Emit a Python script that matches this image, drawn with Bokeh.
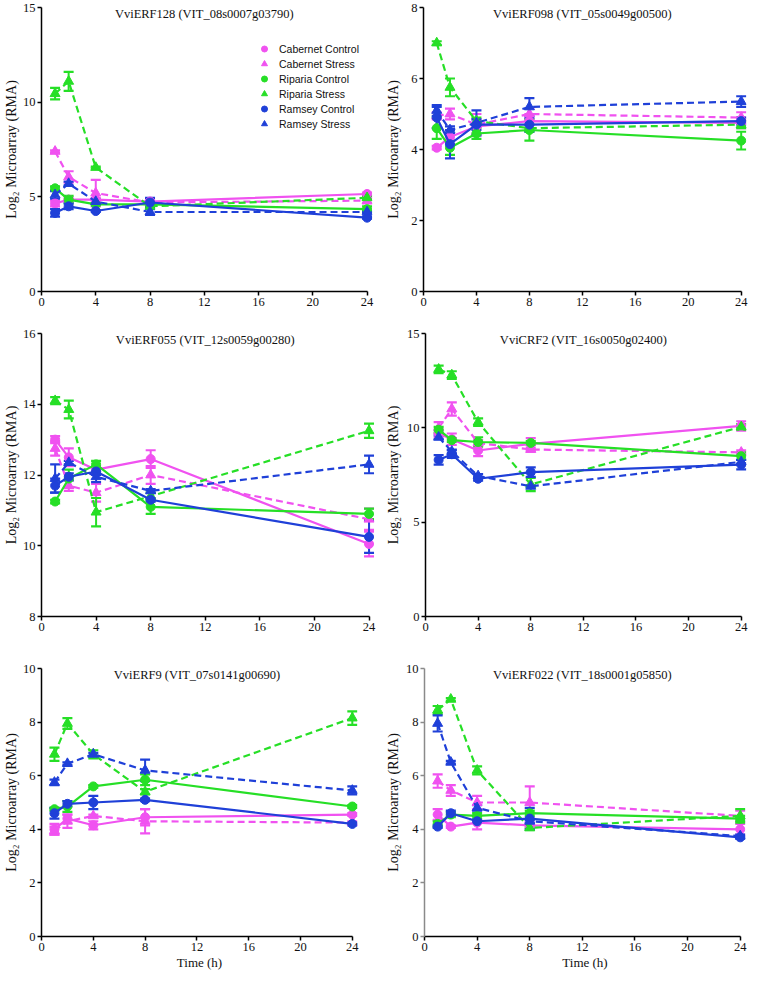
from bokeh.plotting import figure
from bokeh.models import (Range1d, ColumnDataSource, Whisker, TeeHead, Label,
                          Legend, LegendItem)
from bokeh.layouts import column, row
from bokeh.embed import file_html
from bokeh.resources import INLINE

# ---------------- data ----------------
TIME_H = [1, 2, 4, 8, 24]
X_TICKS = [0, 4, 8, 12, 16, 20, 24]
SERIES_NAMES = ["Cabernet Control", "Cabernet Stress", "Riparia Control",
                "Riparia Stress", "Ramsey Control", "Ramsey Stress"]

# VviERF128 (VIT_08s0007g03790)
erf128_cab_c = [4.65, 4.85, 4.85, 4.75, 5.15]
erf128_cab_c_err = [0.15, 0.1, 0.1, 0.1, 0.08]
erf128_cab_s = [7.4, 6.05, 5.2, 4.7, 4.8]
erf128_cab_s_err = [0.05, 0.3, 0.7, 0.15, 0.15]
erf128_rip_c = [5.45, 4.85, 4.6, 4.6, 4.35]
erf128_rip_c_err = [0.1, 0.2, 0.05, 0.1, 0.15]
erf128_rip_s = [10.45, 11.1, 6.55, 4.5, 4.95]
erf128_rip_s_err = [0.3, 0.5, 0.05, 0.1, 0.1]
erf128_ram_c = [4.15, 4.5, 4.25, 4.7, 3.9]
erf128_ram_c_err = [0.2, 0.15, 0.05, 0.25, 0.05]
erf128_ram_s = [5.1, 5.7, 4.75, 4.2, 4.2]
erf128_ram_s_err = [0.2, 0.1, 0.1, 0.15, 0.05]

# VviERF098 (VIT_05s0049g00500)
erf098_cab_c = [4.05, 4.35, 4.65, 4.8, 4.75]
erf098_cab_c_err = [0.05, 0.2, 0.2, 0.2, 0.15]
erf098_cab_s = [4.95, 5.0, 4.7, 5.0, 4.9]
erf098_cab_s_err = [0.1, 0.15, 0.3, 0.15, 0.15]
erf098_rip_c = [4.6, 4.05, 4.45, 4.55, 4.25]
erf098_rip_c_err = [0.3, 0.2, 0.15, 0.3, 0.25]
erf098_rip_s = [7.0, 5.75, 4.8, 4.6, 4.7]
erf098_rip_s_err = [0.05, 0.25, 0.1, 0.1, 0.1]
erf098_ram_c = [4.9, 4.15, 4.7, 4.7, 4.8]
erf098_ram_c_err = [0.3, 0.4, 0.15, 0.2, 0.1]
erf098_ram_s = [5.1, 4.55, 4.75, 5.2, 5.35]
erf098_ram_s_err = [0.15, 0.1, 0.35, 0.25, 0.15]

# VviERF055 (VIT_12s0059g00280)
erf055_cab_c = [13.0, 12.5, 12.15, 12.45, 10.05]
erf055_cab_c_err = [0.1, 0.25, 0.1, 0.25, 0.35]
erf055_cab_s = [12.75, 11.7, 11.5, 12.0, 10.75]
erf055_cab_s_err = [0.2, 0.15, 0.25, 0.25, 0.3]
erf055_rip_c = [11.25, 11.9, 12.3, 11.1, 10.9]
erf055_rip_c_err = [0.05, 0.25, 0.1, 0.2, 0.15]
erf055_rip_s = [14.1, 13.85, 10.95, 11.4, 13.25]
erf055_rip_s_err = [0.1, 0.25, 0.4, 0.1, 0.2]
erf055_ram_c = [11.7, 11.95, 12.1, 11.3, 10.25]
erf055_ram_c_err = [0.2, 0.1, 0.1, 0.05, 0.45]
erf055_ram_s = [11.9, 12.35, 11.95, 11.55, 12.3]
erf055_ram_s_err = [0.4, 0.05, 0.15, 0.05, 0.25]

# VviCRF2 (VIT_16s0050g02400)
crf2_cab_c = [9.7, 9.4, 8.8, 9.15, 10.1]
crf2_cab_c_err = [0.2, 0.3, 0.3, 0.3, 0.25]
crf2_cab_s = [10.0, 11.0, 9.2, 8.85, 8.7]
crf2_cab_s_err = [0.3, 0.35, 0.15, 0.1, 0.1]
crf2_rip_c = [9.9, 9.35, 9.25, 9.2, 8.5]
crf2_rip_c_err = [0.15, 0.1, 0.25, 0.1, 0.2]
crf2_rip_s = [13.1, 12.8, 10.3, 7.0, 10.05]
crf2_rip_s_err = [0.2, 0.2, 0.2, 0.35, 0.15]
crf2_ram_c = [8.3, 8.6, 7.3, 7.65, 8.05]
crf2_ram_c_err = [0.25, 0.2, 0.1, 0.25, 0.25]
crf2_ram_s = [9.5, 8.75, 7.45, 6.9, 8.2]
crf2_ram_s_err = [0.1, 0.1, 0.1, 0.05, 0.1]

# VviERF9 (VIT_07s0141g00690)
erf9_cab_c = [4.0, 4.4, 4.15, 4.45, 4.55]
erf9_cab_c_err = [0.2, 0.15, 0.15, 0.3, 0.05]
erf9_cab_s = [3.95, 4.3, 4.5, 4.3, 4.25]
erf9_cab_s_err = [0.15, 0.25, 0.05, 0.45, 0.05]
erf9_rip_c = [4.75, 4.85, 5.6, 5.85, 4.85]
erf9_rip_c_err = [0.05, 0.2, 0.05, 0.2, 0.05]
erf9_rip_s = [6.8, 7.95, 6.8, 5.4, 8.15]
erf9_rip_s_err = [0.25, 0.2, 0.15, 0.1, 0.25]
erf9_ram_c = [4.6, 4.95, 5.0, 5.1, 4.2]
erf9_ram_c_err = [0.2, 0.1, 0.25, 0.05, 0.05]
erf9_ram_s = [5.75, 6.45, 6.8, 6.2, 5.45]
erf9_ram_s_err = [0.1, 0.05, 0.05, 0.4, 0.15]

# VviERF022 (VIT_18s0001g05850)
erf022_cab_c = [4.55, 4.1, 4.25, 4.15, 4.0]
erf022_cab_c_err = [0.2, 0.05, 0.25, 0.1, 0.2]
erf022_cab_s = [5.8, 5.45, 5.0, 5.0, 4.5]
erf022_cab_s_err = [0.25, 0.2, 0.25, 0.6, 0.2]
erf022_rip_c = [4.2, 4.55, 4.5, 4.6, 4.4]
erf022_rip_c_err = [0.1, 0.1, 0.1, 0.1, 0.1]
erf022_rip_s = [8.45, 8.85, 6.2, 4.05, 4.5]
erf022_rip_s_err = [0.15, 0.05, 0.15, 0.05, 0.25]
erf022_ram_c = [4.1, 4.6, 4.3, 4.4, 3.7]
erf022_ram_c_err = [0.05, 0.1, 0.05, 0.4, 0.05]
erf022_ram_s = [7.95, 6.5, 4.8, 4.3, 3.75]
erf022_ram_s_err = [0.3, 0.05, 0.1, 0.05, 0.05]

TITLES = ["VviERF128 (VIT_08s0007g03790)", "VviERF098 (VIT_05s0049g00500)",
          "VviERF055 (VIT_12s0059g00280)", "VviCRF2 (VIT_16s0050g02400)",
          "VviERF9 (VIT_07s0141g00690)", "VviERF022 (VIT_18s0001g05850)"]
Y_RANGES = [(0, 15), (0, 8), (8, 16), (0, 15), (0, 10), (0, 10)]
Y_TICKS = [[0, 5, 10, 15], [0, 2, 4, 6, 8], [8, 10, 12, 14, 16],
           [0, 5, 10, 15], [0, 2, 4, 6, 8, 10], [0, 2, 4, 6, 8, 10]]
Y_LABEL = "Log\u2082 Microarray (RMA)"
X_LABEL = "Time (h)"

# ---------------- styles ----------------
MAGENTA, GREEN, BLUE = "#F052F0", "#26DF26", "#1F40D8"
S_COLORS = [MAGENTA, MAGENTA, GREEN, GREEN, BLUE, BLUE]
S_MARKERS = ["circle", "triangle"] * 3
S_SIZES = [9, 10] * 3
S_DASH = ["solid", "7 4"] * 3
SERIF = "'Liberation Serif', 'Times New Roman', serif"
SANS = "'Liberation Sans', Arial, sans-serif"

panel_means = [
    [erf128_cab_c, erf128_cab_s, erf128_rip_c, erf128_rip_s, erf128_ram_c, erf128_ram_s],
    [erf098_cab_c, erf098_cab_s, erf098_rip_c, erf098_rip_s, erf098_ram_c, erf098_ram_s],
    [erf055_cab_c, erf055_cab_s, erf055_rip_c, erf055_rip_s, erf055_ram_c, erf055_ram_s],
    [crf2_cab_c, crf2_cab_s, crf2_rip_c, crf2_rip_s, crf2_ram_c, crf2_ram_s],
    [erf9_cab_c, erf9_cab_s, erf9_rip_c, erf9_rip_s, erf9_ram_c, erf9_ram_s],
    [erf022_cab_c, erf022_cab_s, erf022_rip_c, erf022_rip_s, erf022_ram_c, erf022_ram_s],
]
panel_errs = [
    [erf128_cab_c_err, erf128_cab_s_err, erf128_rip_c_err, erf128_rip_s_err, erf128_ram_c_err, erf128_ram_s_err],
    [erf098_cab_c_err, erf098_cab_s_err, erf098_rip_c_err, erf098_rip_s_err, erf098_ram_c_err, erf098_ram_s_err],
    [erf055_cab_c_err, erf055_cab_s_err, erf055_rip_c_err, erf055_rip_s_err, erf055_ram_c_err, erf055_ram_s_err],
    [crf2_cab_c_err, crf2_cab_s_err, crf2_rip_c_err, crf2_rip_s_err, crf2_ram_c_err, crf2_ram_s_err],
    [erf9_cab_c_err, erf9_cab_s_err, erf9_rip_c_err, erf9_rip_s_err, erf9_ram_c_err, erf9_ram_s_err],
    [erf022_cab_c_err, erf022_cab_s_err, erf022_rip_c_err, erf022_rip_s_err, erf022_ram_c_err, erf022_ram_s_err],
]

# layout: (width, height, border_left, border_right, border_top, border_bottom, ylabel_standoff)
LAYOUT = [
    (380, 317, 29, 8, 7, 26, 1),
    (370, 317, 43, 4, 7, 26, 7),
    (380, 324, 31, 6, 12, 23, 1),
    (370, 324, 45, 4, 16, 25, 3),
    (380, 331, 31, 23, 27, 34, 1),
    (370, 331, 44, 5, 27, 34, 2),
]


def make_panel(i):
    w, h, bl, br, bt, bb, lstand = LAYOUT[i]
    y0, y1 = Y_RANGES[i]
    p = figure(width=w, height=h, x_range=Range1d(0, 24.4), y_range=Range1d(y0, y1),
               output_backend="svg", toolbar_location=None, title=None,
               min_border_left=bl, min_border_right=br, min_border_top=bt,
               min_border_bottom=bb)
    p.outline_line_color = None
    p.grid.visible = False
    p.background_fill_color = "white"
    p.border_fill_color = "white"

    p.xaxis.ticker = X_TICKS
    p.xaxis.bounds = (0, 24)
    p.yaxis.ticker = Y_TICKS[i]
    p.yaxis.axis_label = Y_LABEL
    if i >= 4:
        p.xaxis.axis_label = X_LABEL
    for ax in (p.xaxis[0], p.yaxis[0]):
        ax.axis_line_width = 1.5
        ax.major_tick_line_width = 1.5
        ax.major_tick_out = 4
        ax.major_tick_in = 0
        ax.minor_tick_out = 0
        ax.minor_tick_in = 0
        ax.major_label_standoff = 2
        ax.major_label_text_font = SERIF
        ax.major_label_text_font_size = "12.5px"
        ax.major_label_text_color = "#111111"
        ax.axis_label_text_font = SERIF
        ax.axis_label_text_font_style = "normal"
        ax.axis_label_text_color = "#111111"
    p.xaxis.axis_label_text_font_size = "13px"
    p.yaxis.axis_label_text_font_size = "14px"
    p.xaxis.axis_label_standoff = 1
    p.yaxis.axis_label_standoff = lstand
    if i == 5:
        p.yaxis.axis_line_color = "#8a8a8a"
        p.yaxis.major_tick_line_color = "#8a8a8a"

    legend_items = []
    for s in range(6):
        c = S_COLORS[s]
        mean = panel_means[i][s]
        err = panel_errs[i][s]
        src = ColumnDataSource(dict(
            x=TIME_H, y=mean,
            upper=[m + e for m, e in zip(mean, err)],
            lower=[m - e for m, e in zip(mean, err)]))
        p.line("x", "y", source=src, line_color=c, line_width=2.2, line_dash=S_DASH[s])
        p.add_layout(Whisker(source=src, base="x", upper="upper", lower="lower",
                             line_color=c, line_width=2,
                             upper_head=TeeHead(size=10, line_color=c, line_width=2.2),
                             lower_head=TeeHead(size=10, line_color=c, line_width=2.2)))
        sc = p.scatter("x", "y", source=src, marker=S_MARKERS[s], size=S_SIZES[s],
                       fill_color=c, line_color=c)
        if i == 0:
            dummy = p.line(x=[], y=[], line_color=c, line_width=2.2)
            legend_items.append(LegendItem(label=SERIES_NAMES[s], renderers=[dummy, sc]))

    p.add_layout(Label(x=12, y=y1, text=TITLES[i], text_align="center",
                       text_baseline="top", text_font=SERIF, text_font_size="12.5px",
                       text_color="#111111", y_offset=1))

    if i == 0:
        lg = Legend(items=legend_items, location=(213, 160))
        lg.background_fill_alpha = 0
        lg.border_line_alpha = 0
        lg.padding = 0
        lg.margin = 0
        lg.spacing = 0
        lg.label_height = 15
        lg.glyph_height = 15
        lg.glyph_width = 20
        lg.label_standoff = 5
        lg.label_text_font = SANS
        lg.label_text_font_size = "10.5px"
        lg.label_text_color = "#111111"
        p.add_layout(lg)
    return p


panels = [make_panel(i) for i in range(6)]
layout = column(row(panels[0], panels[1], spacing=0),
                row(panels[2], panels[3], spacing=0),
                row(panels[4], panels[5], spacing=0), spacing=0)

open("out.html", "w").write(file_html(layout, INLINE))
